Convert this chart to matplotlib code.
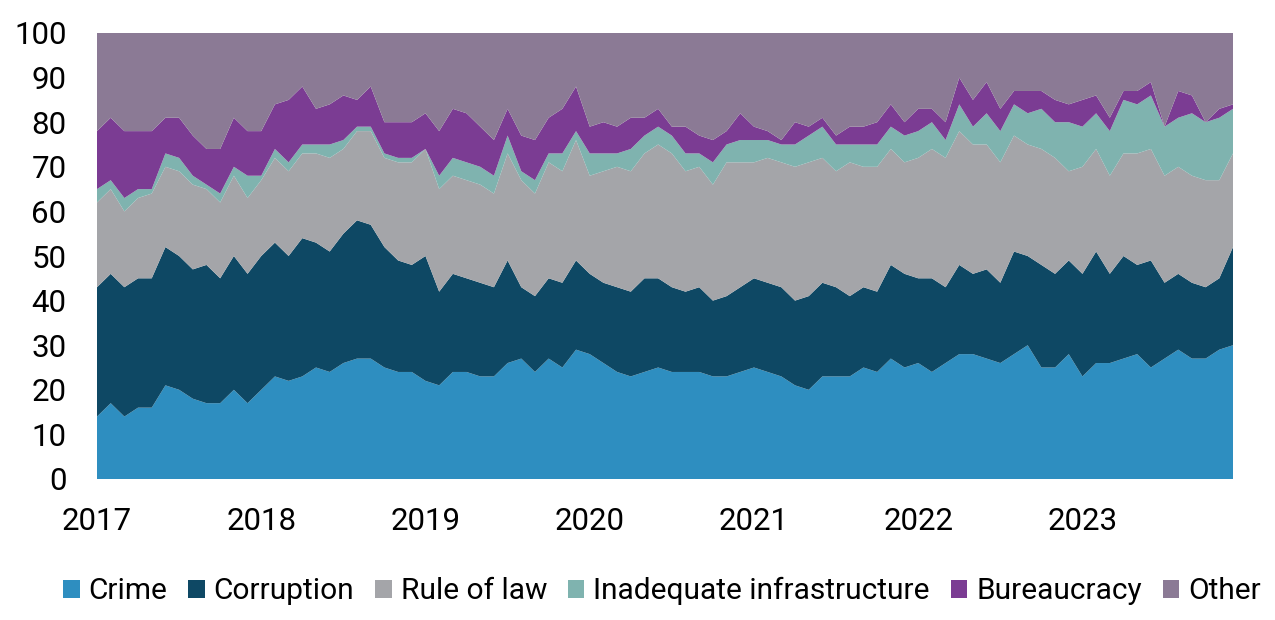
import matplotlib
matplotlib.use("Agg")
import matplotlib.pyplot as plt
from matplotlib.patches import Patch
import numpy as np

plt.rcParams['font.family'] = ['Roboto', 'DejaVu Sans']

years = ['2017', '2018', '2019', '2020', '2021', '2022', '2023']
categories = ['Crime', 'Corruption', 'Rule of law', 'Inadequate infrastructure', 'Bureaucracy', 'Other']
colors = ['#2E8EC0', '#0E4864', '#A4A5A9', '#7FB3AF', '#7B3C93', '#8B7A95']

crime = [14, 17, 14, 16, 16, 21, 20, 18, 17, 17, 20, 17,
         20, 23, 22, 23, 25, 24, 26, 27, 27, 25, 24, 24,
         22, 21, 24, 24, 23, 23, 26, 27, 24, 27, 25, 29,
         28, 26, 24, 23, 24, 25, 24, 24, 24, 23, 23, 24,
         25, 24, 23, 21, 20, 23, 23, 23, 25, 24, 27, 25,
         26, 24, 26, 28, 28, 27, 26, 28, 30, 25, 25, 28,
         23, 26, 26, 27, 28, 25, 27, 29, 27, 27, 29, 30]
corruption = [29, 29, 29, 29, 29, 31, 30, 29, 31, 28, 30, 29,
              30, 30, 28, 31, 28, 27, 29, 31, 30, 27, 25, 24,
              28, 21, 22, 21, 21, 20, 23, 16, 17, 18, 19, 20,
              18, 18, 19, 19, 21, 20, 19, 18, 19, 17, 18, 19,
              20, 20, 20, 19, 21, 21, 20, 18, 18, 18, 21, 21,
              19, 21, 17, 20, 18, 20, 18, 23, 20, 23, 21, 21,
              23, 25, 20, 23, 20, 24, 17, 17, 17, 16, 16, 22]
rule_of_law = [19, 19, 17, 18, 19, 18, 19, 19, 17, 17, 18, 17,
               17, 19, 19, 19, 20, 21, 19, 20, 21, 20, 22, 23,
               24, 23, 22, 22, 22, 21, 24, 24, 23, 26, 25, 27,
               22, 25, 27, 27, 28, 30, 30, 27, 27, 26, 30, 28,
               26, 28, 28, 30, 30, 28, 26, 30, 27, 28, 26, 25,
               27, 29, 29, 30, 29, 28, 27, 26, 25, 26, 26, 20,
               24, 23, 22, 23, 25, 25, 24, 24, 24, 24, 22, 21]
infrastructure = [3, 2, 3, 2, 1, 3, 3, 2, 1, 2, 2, 5,
                  1, 2, 2, 2, 2, 3, 2, 1, 1, 1, 1, 1,
                  0, 3, 4, 4, 4, 4, 4, 2, 3, 2, 4, 2,
                  5, 4, 3, 5, 4, 4, 4, 4, 3, 5, 4, 5,
                  5, 4, 4, 5, 6, 7, 6, 4, 5, 5, 5, 6,
                  6, 6, 4, 6, 4, 7, 7, 7, 7, 9, 8, 11,
                  9, 8, 10, 12, 11, 12, 11, 11, 14, 13, 14, 10]
bureaucracy = [13, 14, 15, 13, 13, 8, 9, 9, 8, 10, 11, 10,
               10, 10, 14, 13, 8, 9, 10, 6, 9, 7, 8, 8,
               8, 10, 11, 11, 9, 8, 6, 8, 9, 8, 10, 10,
               6, 7, 6, 7, 4, 4, 2, 6, 4, 5, 3, 6,
               3, 2, 1, 5, 2, 2, 2, 4, 4, 5, 5, 3,
               5, 3, 4, 6, 6, 7, 5, 3, 5, 4, 5, 4,
               6, 4, 3, 2, 3, 3, 0, 6, 4, 0, 2, 1]
other = [22, 19, 22, 22, 22, 19, 19, 23, 26, 26, 19, 22,
         22, 16, 15, 12, 17, 16, 14, 15, 12, 20, 20, 20,
         18, 22, 17, 18, 21, 24, 17, 23, 24, 19, 17, 12,
         21, 20, 21, 19, 19, 17, 21, 21, 23, 24, 22, 18,
         21, 22, 24, 20, 21, 19, 23, 21, 21, 20, 16, 20,
         17, 17, 20, 10, 15, 11, 17, 13, 13, 13, 15, 16,
         15, 14, 19, 13, 13, 11, 21, 13, 14, 20, 17, 16]

series = [crime, corruption, rule_of_law, infrastructure, bureaucracy, other]
months = np.arange(len(crime))

fig = plt.figure(figsize=(12.75, 6.2), dpi=100)
ax = fig.add_axes([97 / 1275, 1 - 479 / 620, 1136 / 1275, 446 / 620])
ax.stackplot(months, *series, colors=colors, linewidth=0)

ax.set_xlim(0, len(crime) - 1)
ax.set_ylim(0, 100)
ax.set_yticks(np.arange(0, 101, 10))
ax.set_xticks(np.arange(0, len(crime), 12))
ax.set_xticklabels(years)
ax.tick_params(axis='both', length=0, labelsize=22.5, colors='black')
ax.tick_params(axis='y', pad=22)
ax.tick_params(axis='x', pad=20)
for s in ax.spines.values():
    s.set_visible(False)

handles = [Patch(facecolor=c, edgecolor='none') for c in colors]
fig.legend(handles, categories, loc='center', bbox_to_anchor=(662 / 1275, 1 - 591 / 620),
           ncol=6, frameon=False, fontsize=21.5, handlelength=0.55, handleheight=0.55,
           handletextpad=0.3, columnspacing=0.7, borderaxespad=0)

fig.savefig('out.png', dpi=100)
